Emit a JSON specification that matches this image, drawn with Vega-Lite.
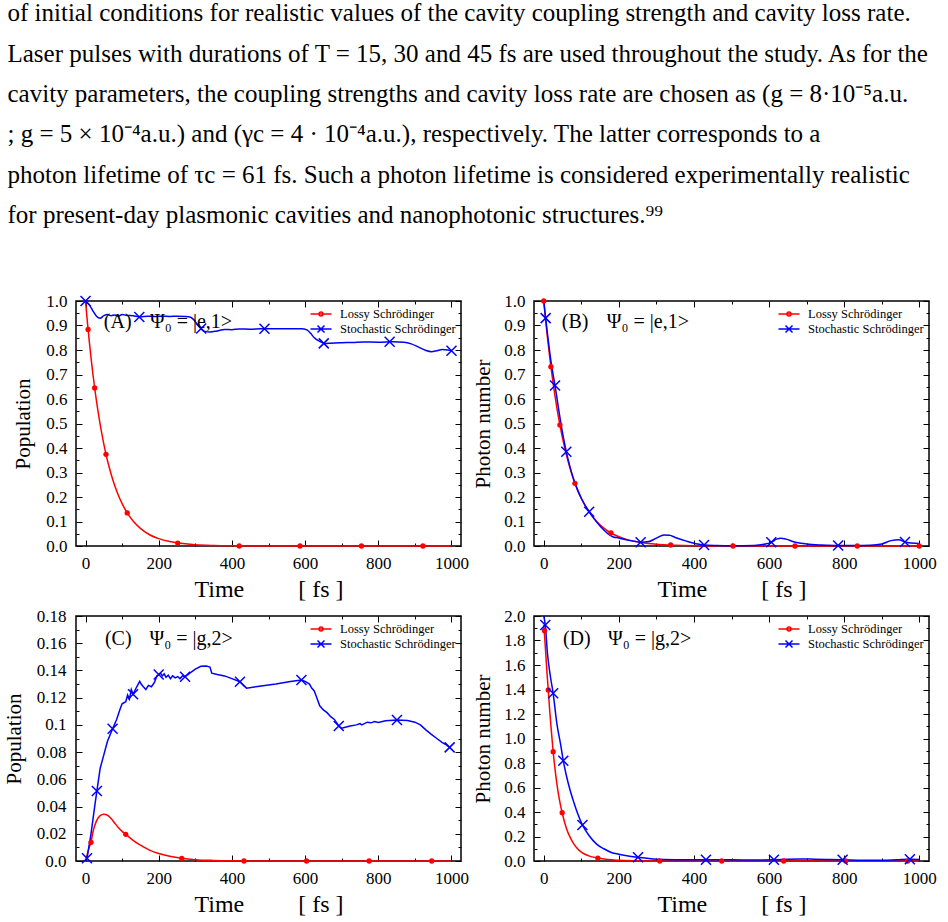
{
  "$schema": "https://vega.github.io/schema/vega-lite/v6.json",
  "padding": {"left": 2, "top": 1, "right": 0, "bottom": 0},
  "background": "white",
  "resolve": {"scale": {"color": "independent", "shape": "independent"}, "legend": {"color": "independent", "shape": "independent"}},
  "title": {
    "text": [
      "of initial conditions for realistic values of the cavity coupling strength and cavity loss rate.",
      "Laser pulses with durations of T = 15, 30 and 45 fs are used throughout the study. As for the",
      "cavity parameters, the coupling strengths and cavity loss rate are chosen as (g = 8·10⁻⁵a.u.",
      "; g = 5 × 10⁻⁴a.u.) and (γc = 4 · 10⁻⁴a.u.), respectively.  The latter corresponds to a",
      "photon lifetime of τc = 61 fs. Such a photon lifetime is considered experimentally realistic",
      "for present-day plasmonic cavities and nanophotonic structures.⁹⁹"
    ],
    "anchor": "start",
    "frame": "bounds",
    "dx": 5,
    "font": "Liberation Serif",
    "fontSize": 25,
    "fontWeight": "normal",
    "color": "black",
    "lineHeight": 40.4,
    "offset": 63
  },
  "config": {
    "view": {"stroke": "black", "strokeWidth": 1.5},
    "axis": {
      "domain": false,
      "grid": false,
      "labelFont": "Liberation Serif",
      "labelFontSize": 17,
      "labelColor": "black",
      "titleFont": "Liberation Serif",
      "titleFontWeight": "normal",
      "titleColor": "black",
      "tickColor": "black",
      "tickWidth": 1
    },
    "legend": {
      "orient": "top-right",
      "offset": 5,
      "padding": 0,
      "rowPadding": 0,
      "labelFont": "Liberation Serif",
      "labelFontSize": 12.5,
      "labelColor": "black",
      "symbolSize": 196,
      "symbolStrokeWidth": 1.5,
      "symbolOpacity": 1,
      "labelOffset": 11
    }
  },
  "datasets": {
    "legend": [{"series": "Lossy Schrödinger"}, {"series": "Stochastic Schrödinger"}],
    "A_red": [
      {"t": 0, "v": 1.0}, {"t": 5, "v": 0.916}, {"t": 10, "v": 0.839}, {"t": 15, "v": 0.769}, {"t": 20, "v": 0.704},
      {"t": 25, "v": 0.645}, {"t": 30, "v": 0.591}, {"t": 40, "v": 0.496}, {"t": 50, "v": 0.416}, {"t": 60, "v": 0.349},
      {"t": 70, "v": 0.293}, {"t": 80, "v": 0.246}, {"t": 90, "v": 0.206}, {"t": 100, "v": 0.173}, {"t": 115, "v": 0.133},
      {"t": 130, "v": 0.102}, {"t": 150, "v": 0.072}, {"t": 175, "v": 0.046}, {"t": 200, "v": 0.03}, {"t": 230, "v": 0.018},
      {"t": 260, "v": 0.011}, {"t": 300, "v": 0.005}, {"t": 350, "v": 0.002}, {"t": 400, "v": 0.001}, {"t": 450, "v": 0},
      {"t": 600, "v": 0}, {"t": 800, "v": 0}, {"t": 1000, "v": 0}
    ],
    "A_blue": [
      {"t": 0, "v": 1.0}, {"t": 10, "v": 0.985}, {"t": 20, "v": 0.96}, {"t": 30, "v": 0.938}, {"t": 40, "v": 0.93},
      {"t": 50, "v": 0.94}, {"t": 60, "v": 0.945}, {"t": 70, "v": 0.94}, {"t": 80, "v": 0.943}, {"t": 90, "v": 0.938},
      {"t": 100, "v": 0.945}, {"t": 110, "v": 0.942}, {"t": 130, "v": 0.94}, {"t": 150, "v": 0.935}, {"t": 170, "v": 0.938},
      {"t": 190, "v": 0.937}, {"t": 210, "v": 0.938}, {"t": 230, "v": 0.937}, {"t": 250, "v": 0.938}, {"t": 270, "v": 0.937},
      {"t": 285, "v": 0.935}, {"t": 295, "v": 0.925}, {"t": 305, "v": 0.905}, {"t": 315, "v": 0.888}, {"t": 325, "v": 0.876},
      {"t": 340, "v": 0.873}, {"t": 360, "v": 0.878}, {"t": 380, "v": 0.884}, {"t": 400, "v": 0.883}, {"t": 420, "v": 0.886},
      {"t": 450, "v": 0.885}, {"t": 480, "v": 0.887}, {"t": 520, "v": 0.887}, {"t": 560, "v": 0.887}, {"t": 590, "v": 0.887},
      {"t": 605, "v": 0.882}, {"t": 615, "v": 0.868}, {"t": 625, "v": 0.85}, {"t": 640, "v": 0.835}, {"t": 655, "v": 0.826},
      {"t": 670, "v": 0.828}, {"t": 700, "v": 0.83}, {"t": 730, "v": 0.831}, {"t": 760, "v": 0.833}, {"t": 800, "v": 0.832},
      {"t": 840, "v": 0.834}, {"t": 870, "v": 0.832}, {"t": 890, "v": 0.825}, {"t": 910, "v": 0.812}, {"t": 930, "v": 0.798},
      {"t": 945, "v": 0.793}, {"t": 960, "v": 0.797}, {"t": 975, "v": 0.802}, {"t": 990, "v": 0.8}, {"t": 1000, "v": 0.797}
    ],
    "A_redpts": [
      {"t": 7, "v": 0.884}, {"t": 25, "v": 0.645}, {"t": 56, "v": 0.374}, {"t": 114, "v": 0.135}, {"t": 252, "v": 0.012},
      {"t": 420, "v": 0}, {"t": 586, "v": 0}, {"t": 754, "v": 0}, {"t": 922, "v": 0}
    ],
    "A_bluepts": [
      {"t": 0, "v": 1.0}, {"t": 147, "v": 0.935}, {"t": 316, "v": 0.888}, {"t": 489, "v": 0.887}, {"t": 651, "v": 0.827},
      {"t": 831, "v": 0.834}, {"t": 1000, "v": 0.797}
    ],
    "A_text": [
      {"t": 50, "v": 0.913, "label": "(A)"}, {"t": 176, "v": 0.913, "label": "Ψ₀ = |e,1>"}
    ],
    "B_red": [
      {"t": 0, "v": 1.0}, {"t": 5, "v": 0.921}, {"t": 10, "v": 0.849}, {"t": 15, "v": 0.782}, {"t": 20, "v": 0.721},
      {"t": 30, "v": 0.612}, {"t": 40, "v": 0.519}, {"t": 50, "v": 0.44}, {"t": 60, "v": 0.374}, {"t": 70, "v": 0.317},
      {"t": 80, "v": 0.269}, {"t": 90, "v": 0.229}, {"t": 100, "v": 0.194}, {"t": 120, "v": 0.14}, {"t": 140, "v": 0.101},
      {"t": 160, "v": 0.073}, {"t": 180, "v": 0.052}, {"t": 200, "v": 0.038}, {"t": 230, "v": 0.023}, {"t": 260, "v": 0.014},
      {"t": 300, "v": 0.007}, {"t": 350, "v": 0.003}, {"t": 400, "v": 0.001}, {"t": 450, "v": 0}, {"t": 700, "v": 0}, {"t": 1000, "v": 0}
    ],
    "B_blue": [
      {"t": 0, "v": 1.0}, {"t": 5, "v": 0.93}, {"t": 10, "v": 0.865}, {"t": 20, "v": 0.745}, {"t": 30, "v": 0.655},
      {"t": 40, "v": 0.555}, {"t": 50, "v": 0.462}, {"t": 60, "v": 0.385}, {"t": 70, "v": 0.322}, {"t": 80, "v": 0.27},
      {"t": 90, "v": 0.229}, {"t": 100, "v": 0.195}, {"t": 121, "v": 0.14}, {"t": 140, "v": 0.1}, {"t": 160, "v": 0.065},
      {"t": 175, "v": 0.045}, {"t": 185, "v": 0.037}, {"t": 200, "v": 0.033}, {"t": 220, "v": 0.025}, {"t": 245, "v": 0.018},
      {"t": 258, "v": 0.015}, {"t": 280, "v": 0.018}, {"t": 300, "v": 0.032}, {"t": 320, "v": 0.045}, {"t": 335, "v": 0.044},
      {"t": 350, "v": 0.035}, {"t": 380, "v": 0.02}, {"t": 410, "v": 0.008}, {"t": 427, "v": 0.004}, {"t": 460, "v": 0.002},
      {"t": 500, "v": 0.001}, {"t": 560, "v": 0.002}, {"t": 590, "v": 0.008}, {"t": 606, "v": 0.015}, {"t": 620, "v": 0.028},
      {"t": 632, "v": 0.032}, {"t": 645, "v": 0.028}, {"t": 670, "v": 0.015}, {"t": 700, "v": 0.008}, {"t": 740, "v": 0.004},
      {"t": 784, "v": 0.002}, {"t": 830, "v": 0.002}, {"t": 870, "v": 0.003}, {"t": 900, "v": 0.008}, {"t": 925, "v": 0.022},
      {"t": 945, "v": 0.026}, {"t": 962, "v": 0.016}, {"t": 980, "v": 0.012}, {"t": 1000, "v": 0.01}
    ],
    "B_redpts": [
      {"t": 0, "v": 1.0}, {"t": 19, "v": 0.732}, {"t": 43, "v": 0.494}, {"t": 83, "v": 0.256}, {"t": 179, "v": 0.053},
      {"t": 338, "v": 0.004}, {"t": 504, "v": 0}, {"t": 669, "v": 0}, {"t": 835, "v": 0}, {"t": 1000, "v": 0}
    ],
    "B_bluepts": [
      {"t": 5, "v": 0.93}, {"t": 30, "v": 0.655}, {"t": 60, "v": 0.385}, {"t": 121, "v": 0.14}, {"t": 258, "v": 0.015},
      {"t": 427, "v": 0.004}, {"t": 606, "v": 0.015}, {"t": 784, "v": 0.002}, {"t": 962, "v": 0.016}
    ],
    "B_text": [
      {"t": 48, "v": 0.913, "label": "(B)"}, {"t": 168, "v": 0.913, "label": "Ψ₀ = |e,1>"}
    ],
    "C_red": [
      {"t": 0, "v": 0}, {"t": 5, "v": 0.005}, {"t": 10, "v": 0.01}, {"t": 15, "v": 0.0137}, {"t": 20, "v": 0.021},
      {"t": 30, "v": 0.0295}, {"t": 40, "v": 0.0333}, {"t": 50, "v": 0.0343}, {"t": 60, "v": 0.0336}, {"t": 70, "v": 0.0312},
      {"t": 80, "v": 0.0278}, {"t": 90, "v": 0.0245}, {"t": 100, "v": 0.0218}, {"t": 110, "v": 0.0196}, {"t": 130, "v": 0.0152},
      {"t": 150, "v": 0.0116}, {"t": 175, "v": 0.008}, {"t": 200, "v": 0.0055}, {"t": 230, "v": 0.0035}, {"t": 263, "v": 0.002},
      {"t": 300, "v": 0.001}, {"t": 350, "v": 0.0004}, {"t": 400, "v": 0.0001}, {"t": 450, "v": 0}, {"t": 700, "v": 0}, {"t": 1000, "v": 0}
    ],
    "C_blue": [
      {"t": 0, "v": 0}, {"t": 4, "v": 0.002}, {"t": 15, "v": 0.02}, {"t": 25, "v": 0.04}, {"t": 31, "v": 0.0514},
      {"t": 40, "v": 0.068}, {"t": 50, "v": 0.078}, {"t": 60, "v": 0.088}, {"t": 74, "v": 0.0972}, {"t": 85, "v": 0.104},
      {"t": 95, "v": 0.112}, {"t": 100, "v": 0.1155}, {"t": 110, "v": 0.117}, {"t": 115, "v": 0.122}, {"t": 120, "v": 0.119},
      {"t": 125, "v": 0.126}, {"t": 130, "v": 0.1225}, {"t": 140, "v": 0.128}, {"t": 148, "v": 0.132}, {"t": 152, "v": 0.13},
      {"t": 158, "v": 0.128}, {"t": 165, "v": 0.126}, {"t": 172, "v": 0.129}, {"t": 180, "v": 0.128}, {"t": 188, "v": 0.131},
      {"t": 195, "v": 0.136}, {"t": 200, "v": 0.137}, {"t": 205, "v": 0.138}, {"t": 210, "v": 0.136}, {"t": 215, "v": 0.1375},
      {"t": 220, "v": 0.135}, {"t": 226, "v": 0.1365}, {"t": 232, "v": 0.134}, {"t": 238, "v": 0.136}, {"t": 245, "v": 0.1345},
      {"t": 252, "v": 0.1355}, {"t": 258, "v": 0.134}, {"t": 265, "v": 0.136}, {"t": 272, "v": 0.1354}, {"t": 285, "v": 0.138},
      {"t": 300, "v": 0.141}, {"t": 315, "v": 0.143}, {"t": 330, "v": 0.1432}, {"t": 340, "v": 0.1425}, {"t": 345, "v": 0.138},
      {"t": 360, "v": 0.137}, {"t": 380, "v": 0.136}, {"t": 400, "v": 0.134}, {"t": 422, "v": 0.1317}, {"t": 432, "v": 0.129},
      {"t": 440, "v": 0.127}, {"t": 480, "v": 0.1285}, {"t": 520, "v": 0.13}, {"t": 560, "v": 0.1318}, {"t": 590, "v": 0.133},
      {"t": 600, "v": 0.132}, {"t": 612, "v": 0.13}, {"t": 618, "v": 0.127}, {"t": 625, "v": 0.125}, {"t": 632, "v": 0.12},
      {"t": 640, "v": 0.114}, {"t": 650, "v": 0.111}, {"t": 660, "v": 0.109}, {"t": 670, "v": 0.106}, {"t": 680, "v": 0.104},
      {"t": 685, "v": 0.102}, {"t": 692, "v": 0.0992}, {"t": 700, "v": 0.0975}, {"t": 720, "v": 0.099}, {"t": 740, "v": 0.1},
      {"t": 750, "v": 0.101}, {"t": 755, "v": 0.1}, {"t": 770, "v": 0.102}, {"t": 780, "v": 0.1015}, {"t": 790, "v": 0.1025},
      {"t": 800, "v": 0.1018}, {"t": 820, "v": 0.103}, {"t": 851, "v": 0.1036}, {"t": 880, "v": 0.1032}, {"t": 900, "v": 0.102},
      {"t": 915, "v": 0.1}, {"t": 930, "v": 0.0963}, {"t": 945, "v": 0.093}, {"t": 960, "v": 0.09}, {"t": 975, "v": 0.087},
      {"t": 985, "v": 0.0855}, {"t": 995, "v": 0.0835}
    ],
    "C_redpts": [
      {"t": 15, "v": 0.0137}, {"t": 110, "v": 0.0196}, {"t": 263, "v": 0.002}, {"t": 433, "v": 0}, {"t": 604, "v": 0},
      {"t": 775, "v": 0}, {"t": 946, "v": 0}
    ],
    "C_bluepts": [
      {"t": 4, "v": 0.002}, {"t": 31, "v": 0.0514}, {"t": 74, "v": 0.0972}, {"t": 130, "v": 0.1225}, {"t": 200, "v": 0.137},
      {"t": 272, "v": 0.1354}, {"t": 422, "v": 0.1317}, {"t": 590, "v": 0.133}, {"t": 692, "v": 0.0992}, {"t": 851, "v": 0.1036},
      {"t": 995, "v": 0.0835}
    ],
    "C_text": [
      {"t": 53, "v": 0.163, "label": "(C)"}, {"t": 175, "v": 0.163, "label": "Ψ₀ = |g,2>"}
    ],
    "D_red": [
      {"t": 0, "v": 1.93}, {"t": 3, "v": 1.8}, {"t": 6, "v": 1.66}, {"t": 9, "v": 1.52}, {"t": 12, "v": 1.396},
      {"t": 16, "v": 1.22}, {"t": 20, "v": 1.07}, {"t": 25, "v": 0.892}, {"t": 30, "v": 0.75}, {"t": 35, "v": 0.63},
      {"t": 40, "v": 0.53}, {"t": 49, "v": 0.394}, {"t": 60, "v": 0.27}, {"t": 70, "v": 0.195}, {"t": 80, "v": 0.14},
      {"t": 90, "v": 0.1}, {"t": 100, "v": 0.073}, {"t": 120, "v": 0.042}, {"t": 144, "v": 0.024}, {"t": 170, "v": 0.012},
      {"t": 200, "v": 0.006}, {"t": 250, "v": 0.002}, {"t": 300, "v": 0}, {"t": 600, "v": 0}, {"t": 1000, "v": 0}
    ],
    "D_blue": [
      {"t": 0, "v": 2.0}, {"t": 4, "v": 1.927}, {"t": 10, "v": 1.69}, {"t": 18, "v": 1.5}, {"t": 25, "v": 1.369},
      {"t": 35, "v": 1.12}, {"t": 45, "v": 0.95}, {"t": 52, "v": 0.819}, {"t": 60, "v": 0.7}, {"t": 70, "v": 0.58},
      {"t": 80, "v": 0.48}, {"t": 90, "v": 0.39}, {"t": 103, "v": 0.294}, {"t": 120, "v": 0.21}, {"t": 140, "v": 0.14},
      {"t": 160, "v": 0.1}, {"t": 180, "v": 0.07}, {"t": 200, "v": 0.055}, {"t": 225, "v": 0.04}, {"t": 251, "v": 0.03},
      {"t": 280, "v": 0.02}, {"t": 320, "v": 0.012}, {"t": 380, "v": 0.01}, {"t": 432, "v": 0.01}, {"t": 500, "v": 0.01},
      {"t": 560, "v": 0.008}, {"t": 613, "v": 0.01}, {"t": 650, "v": 0.015}, {"t": 680, "v": 0.017}, {"t": 720, "v": 0.015},
      {"t": 760, "v": 0.012}, {"t": 796, "v": 0.01}, {"t": 850, "v": 0.006}, {"t": 900, "v": 0.006}, {"t": 940, "v": 0.01},
      {"t": 975, "v": 0.014}, {"t": 1000, "v": 0.012}
    ],
    "D_redpts": [
      {"t": 2, "v": 1.88}, {"t": 12, "v": 1.396}, {"t": 25, "v": 0.892}, {"t": 49, "v": 0.394}, {"t": 144, "v": 0.024},
      {"t": 309, "v": 0}, {"t": 474, "v": 0}, {"t": 639, "v": 0}, {"t": 804, "v": 0}, {"t": 969, "v": 0}
    ],
    "D_bluepts": [
      {"t": 4, "v": 1.927}, {"t": 25, "v": 1.369}, {"t": 52, "v": 0.819}, {"t": 103, "v": 0.294}, {"t": 251, "v": 0.03},
      {"t": 432, "v": 0.01}, {"t": 613, "v": 0.01}, {"t": 796, "v": 0.01}, {"t": 975, "v": 0.014}
    ],
    "D_text": [
      {"t": 51, "v": 1.81, "label": "(D)"}, {"t": 171, "v": 1.81, "label": "Ψ₀ = |g,2>"}
    ]
  },
  "vconcat": [
    {
      "resolve": {"scale": {"color": "independent", "shape": "independent"}, "legend": {"color": "independent", "shape": "independent"}},
      "hconcat": [
        {
          "width": 385, "height": 245,
          "resolve": {"axis": {"x": "independent", "y": "independent"}},
          "layer": [
            {"data": {"name": "A_red"}, "mark": {"type": "line", "color": "#ff0000", "strokeWidth": 1.5, "interpolate": "monotone"},
             "encoding": {
               "x": {"field": "t", "type": "quantitative", "scale": {"domain": [-26, 1026], "nice": false, "zero": false},
                     "axis": {"orient": "bottom", "values": [0, 200, 400, 600, 800, 1000], "format": "d", "tickSize": -6, "labelPadding": 15, "title": "Time\u00a0\u00a0\u00a0\u00a0\u00a0\u00a0\u00a0\u00a0\u00a0[ fs ]", "titleFontSize": 24, "titlePadding": 6}},
               "y": {"field": "v", "type": "quantitative", "scale": {"domain": [0, 1], "nice": false, "zero": false},
                     "axis": {"orient": "left", "values": [0, 0.1, 0.2, 0.3, 0.4, 0.5, 0.6, 0.7, 0.8, 0.9, 1.0], "format": ".1f", "tickSize": -6, "labelPadding": 15, "title": "Population", "titleFontSize": 21, "titlePadding": 12}}
             }},
            {"data": {"name": "A_blue"}, "mark": {"type": "line", "color": "#0000ff", "strokeWidth": 1.5, "interpolate": "monotone"},
             "encoding": {
               "x": {"field": "t", "type": "quantitative", "scale": {"domain": [-26, 1026], "nice": false, "zero": false},
                     "axis": {"orient": "top", "values": [0, 200, 400, 600, 800, 1000], "tickSize": -6, "labels": false, "title": null}},
               "y": {"field": "v", "type": "quantitative", "scale": {"domain": [0, 1], "nice": false, "zero": false},
                     "axis": {"orient": "right", "values": [0, 0.1, 0.2, 0.3, 0.4, 0.5, 0.6, 0.7, 0.8, 0.9, 1.0], "tickSize": -6, "labels": false, "title": null}}
             }},
            {"data": {"name": "A_redpts"}, "mark": {"type": "point", "shape": "circle", "filled": true, "color": "#ff0000", "size": 28, "opacity": 1},
             "encoding": {
               "x": {"field": "t", "type": "quantitative", "scale": {"domain": [-26, 1026], "nice": false, "zero": false},
                     "axis": {"orient": "bottom", "values": [100, 300, 500, 700, 900], "tickSize": -3, "labels": false, "title": null}},
               "y": {"field": "v", "type": "quantitative", "scale": {"domain": [0, 1], "nice": false, "zero": false},
                     "axis": {"orient": "left", "values": [0.05, 0.15, 0.25, 0.35, 0.45, 0.55, 0.65, 0.75, 0.85, 0.95], "tickSize": -3, "labels": false, "title": null}}
             }},
            {"data": {"name": "A_bluepts"}, "mark": {"type": "point", "shape": "M-1,-1L1,1M-1,1L1,-1", "filled": false, "color": "#0000ff", "size": 100, "strokeWidth": 1.5, "opacity": 1},
             "encoding": {
               "x": {"field": "t", "type": "quantitative", "scale": {"domain": [-26, 1026], "nice": false, "zero": false},
                     "axis": {"orient": "top", "values": [100, 300, 500, 700, 900], "tickSize": -3, "labels": false, "title": null}},
               "y": {"field": "v", "type": "quantitative", "scale": {"domain": [0, 1], "nice": false, "zero": false},
                     "axis": {"orient": "right", "values": [0.05, 0.15, 0.25, 0.35, 0.45, 0.55, 0.65, 0.75, 0.85, 0.95], "tickSize": -3, "labels": false, "title": null}}
             }},
            {"data": {"name": "A_text"}, "mark": {"type": "text", "align": "left", "baseline": "middle", "font": "Liberation Serif", "fontSize": 20, "color": "black"},
             "encoding": {
               "x": {"field": "t", "type": "quantitative", "axis": null},
               "y": {"field": "v", "type": "quantitative", "axis": null},
               "text": {"field": "label"}
             }},
            {"data": {"name": "legend"}, "mark": {"type": "point", "filled": false, "opacity": 0, "strokeWidth": 1.5},
             "encoding": {
               "color": {"field": "series", "type": "nominal", "scale": {"domain": ["Lossy Schrödinger", "Stochastic Schrödinger"], "range": ["#ff0000", "#0000ff"]}, "legend": {"title": null}},
               "shape": {"field": "series", "type": "nominal", "scale": {"domain": ["Lossy Schrödinger", "Stochastic Schrödinger"], "range": ["M-1.5,0H1.5M0.28,0A0.28,0.28,0,1,1,-0.28,0A0.28,0.28,0,1,1,0.28,0", "M-1.5,0H1.5M-0.5,-0.5L0.5,0.5M-0.5,0.5L0.5,-0.5"]}, "legend": {"title": null}}
             }}
          ]
        },
        {
          "width": 395, "height": 245,
          "resolve": {"axis": {"x": "independent", "y": "independent"}},
          "layer": [
            {"data": {"name": "B_red"}, "mark": {"type": "line", "color": "#ff0000", "strokeWidth": 1.5, "interpolate": "monotone"},
             "encoding": {
               "x": {"field": "t", "type": "quantitative", "scale": {"domain": [-26, 1026], "nice": false, "zero": false},
                     "axis": {"orient": "bottom", "values": [0, 200, 400, 600, 800, 1000], "format": "d", "tickSize": -6, "labelPadding": 15, "title": "Time\u00a0\u00a0\u00a0\u00a0\u00a0\u00a0\u00a0\u00a0\u00a0[ fs ]", "titleFontSize": 24, "titlePadding": 6}},
               "y": {"field": "v", "type": "quantitative", "scale": {"domain": [0, 1], "nice": false, "zero": false},
                     "axis": {"orient": "left", "values": [0, 0.1, 0.2, 0.3, 0.4, 0.5, 0.6, 0.7, 0.8, 0.9, 1.0], "format": ".1f", "tickSize": -6, "labelPadding": 15, "title": "Photon number", "titleFontSize": 21, "titlePadding": 10}}
             }},
            {"data": {"name": "B_blue"}, "mark": {"type": "line", "color": "#0000ff", "strokeWidth": 1.5, "interpolate": "monotone"},
             "encoding": {
               "x": {"field": "t", "type": "quantitative", "scale": {"domain": [-26, 1026], "nice": false, "zero": false},
                     "axis": {"orient": "top", "values": [0, 200, 400, 600, 800, 1000], "tickSize": -6, "labels": false, "title": null}},
               "y": {"field": "v", "type": "quantitative", "scale": {"domain": [0, 1], "nice": false, "zero": false},
                     "axis": {"orient": "right", "values": [0, 0.1, 0.2, 0.3, 0.4, 0.5, 0.6, 0.7, 0.8, 0.9, 1.0], "tickSize": -6, "labels": false, "title": null}}
             }},
            {"data": {"name": "B_redpts"}, "mark": {"type": "point", "shape": "circle", "filled": true, "color": "#ff0000", "size": 28, "opacity": 1},
             "encoding": {
               "x": {"field": "t", "type": "quantitative", "scale": {"domain": [-26, 1026], "nice": false, "zero": false},
                     "axis": {"orient": "bottom", "values": [100, 300, 500, 700, 900], "tickSize": -3, "labels": false, "title": null}},
               "y": {"field": "v", "type": "quantitative", "scale": {"domain": [0, 1], "nice": false, "zero": false},
                     "axis": {"orient": "left", "values": [0.05, 0.15, 0.25, 0.35, 0.45, 0.55, 0.65, 0.75, 0.85, 0.95], "tickSize": -3, "labels": false, "title": null}}
             }},
            {"data": {"name": "B_bluepts"}, "mark": {"type": "point", "shape": "M-1,-1L1,1M-1,1L1,-1", "filled": false, "color": "#0000ff", "size": 100, "strokeWidth": 1.5, "opacity": 1},
             "encoding": {
               "x": {"field": "t", "type": "quantitative", "scale": {"domain": [-26, 1026], "nice": false, "zero": false},
                     "axis": {"orient": "top", "values": [100, 300, 500, 700, 900], "tickSize": -3, "labels": false, "title": null}},
               "y": {"field": "v", "type": "quantitative", "scale": {"domain": [0, 1], "nice": false, "zero": false},
                     "axis": {"orient": "right", "values": [0.05, 0.15, 0.25, 0.35, 0.45, 0.55, 0.65, 0.75, 0.85, 0.95], "tickSize": -3, "labels": false, "title": null}}
             }},
            {"data": {"name": "B_text"}, "mark": {"type": "text", "align": "left", "baseline": "middle", "font": "Liberation Serif", "fontSize": 20, "color": "black"},
             "encoding": {
               "x": {"field": "t", "type": "quantitative", "axis": null},
               "y": {"field": "v", "type": "quantitative", "axis": null},
               "text": {"field": "label"}
             }},
            {"data": {"name": "legend"}, "mark": {"type": "point", "filled": false, "opacity": 0, "strokeWidth": 1.5},
             "encoding": {
               "color": {"field": "series", "type": "nominal", "scale": {"domain": ["Lossy Schrödinger", "Stochastic Schrödinger"], "range": ["#ff0000", "#0000ff"]}, "legend": {"title": null}},
               "shape": {"field": "series", "type": "nominal", "scale": {"domain": ["Lossy Schrödinger", "Stochastic Schrödinger"], "range": ["M-1.5,0H1.5M0.28,0A0.28,0.28,0,1,1,-0.28,0A0.28,0.28,0,1,1,0.28,0", "M-1.5,0H1.5M-0.5,-0.5L0.5,0.5M-0.5,0.5L0.5,-0.5"]}, "legend": {"title": null}}
             }}
          ]
        }
      ],
      "spacing": 2
    },
    {
      "resolve": {"scale": {"color": "independent", "shape": "independent"}, "legend": {"color": "independent", "shape": "independent"}},
      "hconcat": [
        {
          "width": 385, "height": 245,
          "resolve": {"axis": {"x": "independent", "y": "independent"}},
          "layer": [
            {"data": {"name": "C_red"}, "mark": {"type": "line", "color": "#ff0000", "strokeWidth": 1.5, "interpolate": "monotone"},
             "encoding": {
               "x": {"field": "t", "type": "quantitative", "scale": {"domain": [-26, 1026], "nice": false, "zero": false},
                     "axis": {"orient": "bottom", "values": [0, 200, 400, 600, 800, 1000], "format": "d", "tickSize": -6, "labelPadding": 15, "title": "Time\u00a0\u00a0\u00a0\u00a0\u00a0\u00a0\u00a0\u00a0\u00a0[ fs ]", "titleFontSize": 24, "titlePadding": 6}},
               "y": {"field": "v", "type": "quantitative", "scale": {"domain": [0, 0.18], "nice": false, "zero": false},
                     "axis": {"orient": "left", "values": [0, 0.02, 0.04, 0.06, 0.08, 0.1, 0.12, 0.14, 0.16, 0.18], "labelExpr": "datum.value == 0 ? '0.0' : format(datum.value, '.2~f')", "tickSize": -6, "labelPadding": 16, "title": "Population", "titleFontSize": 21, "titlePadding": 12}}
             }},
            {"data": {"name": "C_blue"}, "mark": {"type": "line", "color": "#0000ff", "strokeWidth": 1.5},
             "encoding": {
               "x": {"field": "t", "type": "quantitative", "scale": {"domain": [-26, 1026], "nice": false, "zero": false},
                     "axis": {"orient": "top", "values": [0, 200, 400, 600, 800, 1000], "tickSize": -6, "labels": false, "title": null}},
               "y": {"field": "v", "type": "quantitative", "scale": {"domain": [0, 0.18], "nice": false, "zero": false},
                     "axis": {"orient": "right", "values": [0, 0.02, 0.04, 0.06, 0.08, 0.1, 0.12, 0.14, 0.16, 0.18], "tickSize": -6, "labels": false, "title": null}}
             }},
            {"data": {"name": "C_redpts"}, "mark": {"type": "point", "shape": "circle", "filled": true, "color": "#ff0000", "size": 28, "opacity": 1},
             "encoding": {
               "x": {"field": "t", "type": "quantitative", "scale": {"domain": [-26, 1026], "nice": false, "zero": false},
                     "axis": {"orient": "bottom", "values": [100, 300, 500, 700, 900], "tickSize": -3, "labels": false, "title": null}},
               "y": {"field": "v", "type": "quantitative", "scale": {"domain": [0, 0.18], "nice": false, "zero": false},
                     "axis": {"orient": "left", "values": [0.01, 0.03, 0.05, 0.07, 0.09, 0.11, 0.13, 0.15, 0.17], "tickSize": -3, "labels": false, "title": null}}
             }},
            {"data": {"name": "C_bluepts"}, "mark": {"type": "point", "shape": "M-1,-1L1,1M-1,1L1,-1", "filled": false, "color": "#0000ff", "size": 100, "strokeWidth": 1.5, "opacity": 1},
             "encoding": {
               "x": {"field": "t", "type": "quantitative", "scale": {"domain": [-26, 1026], "nice": false, "zero": false},
                     "axis": {"orient": "top", "values": [100, 300, 500, 700, 900], "tickSize": -3, "labels": false, "title": null}},
               "y": {"field": "v", "type": "quantitative", "scale": {"domain": [0, 0.18], "nice": false, "zero": false},
                     "axis": {"orient": "right", "values": [0.01, 0.03, 0.05, 0.07, 0.09, 0.11, 0.13, 0.15, 0.17], "tickSize": -3, "labels": false, "title": null}}
             }},
            {"data": {"name": "C_text"}, "mark": {"type": "text", "align": "left", "baseline": "middle", "font": "Liberation Serif", "fontSize": 20, "color": "black"},
             "encoding": {
               "x": {"field": "t", "type": "quantitative", "axis": null},
               "y": {"field": "v", "type": "quantitative", "axis": null},
               "text": {"field": "label"}
             }},
            {"data": {"name": "legend"}, "mark": {"type": "point", "filled": false, "opacity": 0, "strokeWidth": 1.5},
             "encoding": {
               "color": {"field": "series", "type": "nominal", "scale": {"domain": ["Lossy Schrödinger", "Stochastic Schrödinger"], "range": ["#ff0000", "#0000ff"]}, "legend": {"title": null}},
               "shape": {"field": "series", "type": "nominal", "scale": {"domain": ["Lossy Schrödinger", "Stochastic Schrödinger"], "range": ["M-1.5,0H1.5M0.28,0A0.28,0.28,0,1,1,-0.28,0A0.28,0.28,0,1,1,0.28,0", "M-1.5,0H1.5M-0.5,-0.5L0.5,0.5M-0.5,0.5L0.5,-0.5"]}, "legend": {"title": null}}
             }}
          ]
        },
        {
          "width": 395, "height": 245,
          "resolve": {"axis": {"x": "independent", "y": "independent"}},
          "layer": [
            {"data": {"name": "D_red"}, "mark": {"type": "line", "color": "#ff0000", "strokeWidth": 1.5, "interpolate": "monotone"},
             "encoding": {
               "x": {"field": "t", "type": "quantitative", "scale": {"domain": [-26, 1026], "nice": false, "zero": false},
                     "axis": {"orient": "bottom", "values": [0, 200, 400, 600, 800, 1000], "format": "d", "tickSize": -6, "labelPadding": 15, "title": "Time\u00a0\u00a0\u00a0\u00a0\u00a0\u00a0\u00a0\u00a0\u00a0[ fs ]", "titleFontSize": 24, "titlePadding": 6}},
               "y": {"field": "v", "type": "quantitative", "scale": {"domain": [0, 2], "nice": false, "zero": false},
                     "axis": {"orient": "left", "values": [0, 0.2, 0.4, 0.6, 0.8, 1.0, 1.2, 1.4, 1.6, 1.8, 2.0], "format": ".1f", "tickSize": -6, "labelPadding": 15, "title": "Photon number", "titleFontSize": 21, "titlePadding": 10}}
             }},
            {"data": {"name": "D_blue"}, "mark": {"type": "line", "color": "#0000ff", "strokeWidth": 1.5, "interpolate": "monotone"},
             "encoding": {
               "x": {"field": "t", "type": "quantitative", "scale": {"domain": [-26, 1026], "nice": false, "zero": false},
                     "axis": {"orient": "top", "values": [0, 200, 400, 600, 800, 1000], "tickSize": -6, "labels": false, "title": null}},
               "y": {"field": "v", "type": "quantitative", "scale": {"domain": [0, 2], "nice": false, "zero": false},
                     "axis": {"orient": "right", "values": [0, 0.2, 0.4, 0.6, 0.8, 1.0, 1.2, 1.4, 1.6, 1.8, 2.0], "tickSize": -6, "labels": false, "title": null}}
             }},
            {"data": {"name": "D_redpts"}, "mark": {"type": "point", "shape": "circle", "filled": true, "color": "#ff0000", "size": 28, "opacity": 1},
             "encoding": {
               "x": {"field": "t", "type": "quantitative", "scale": {"domain": [-26, 1026], "nice": false, "zero": false},
                     "axis": {"orient": "bottom", "values": [100, 300, 500, 700, 900], "tickSize": -3, "labels": false, "title": null}},
               "y": {"field": "v", "type": "quantitative", "scale": {"domain": [0, 2], "nice": false, "zero": false},
                     "axis": {"orient": "left", "values": [0.1, 0.3, 0.5, 0.7, 0.9, 1.1, 1.3, 1.5, 1.7, 1.9], "tickSize": -3, "labels": false, "title": null}}
             }},
            {"data": {"name": "D_bluepts"}, "mark": {"type": "point", "shape": "M-1,-1L1,1M-1,1L1,-1", "filled": false, "color": "#0000ff", "size": 100, "strokeWidth": 1.5, "opacity": 1},
             "encoding": {
               "x": {"field": "t", "type": "quantitative", "scale": {"domain": [-26, 1026], "nice": false, "zero": false},
                     "axis": {"orient": "top", "values": [100, 300, 500, 700, 900], "tickSize": -3, "labels": false, "title": null}},
               "y": {"field": "v", "type": "quantitative", "scale": {"domain": [0, 2], "nice": false, "zero": false},
                     "axis": {"orient": "right", "values": [0.1, 0.3, 0.5, 0.7, 0.9, 1.1, 1.3, 1.5, 1.7, 1.9], "tickSize": -3, "labels": false, "title": null}}
             }},
            {"data": {"name": "D_text"}, "mark": {"type": "text", "align": "left", "baseline": "middle", "font": "Liberation Serif", "fontSize": 20, "color": "black"},
             "encoding": {
               "x": {"field": "t", "type": "quantitative", "axis": null},
               "y": {"field": "v", "type": "quantitative", "axis": null},
               "text": {"field": "label"}
             }},
            {"data": {"name": "legend"}, "mark": {"type": "point", "filled": false, "opacity": 0, "strokeWidth": 1.5},
             "encoding": {
               "color": {"field": "series", "type": "nominal", "scale": {"domain": ["Lossy Schrödinger", "Stochastic Schrödinger"], "range": ["#ff0000", "#0000ff"]}, "legend": {"title": null}},
               "shape": {"field": "series", "type": "nominal", "scale": {"domain": ["Lossy Schrödinger", "Stochastic Schrödinger"], "range": ["M-1.5,0H1.5M0.28,0A0.28,0.28,0,1,1,-0.28,0A0.28,0.28,0,1,1,0.28,0", "M-1.5,0H1.5M-0.5,-0.5L0.5,0.5M-0.5,0.5L0.5,-0.5"]}, "legend": {"title": null}}
             }}
          ]
        }
      ],
      "spacing": 2
    }
  ],
  "spacing": 4
}
